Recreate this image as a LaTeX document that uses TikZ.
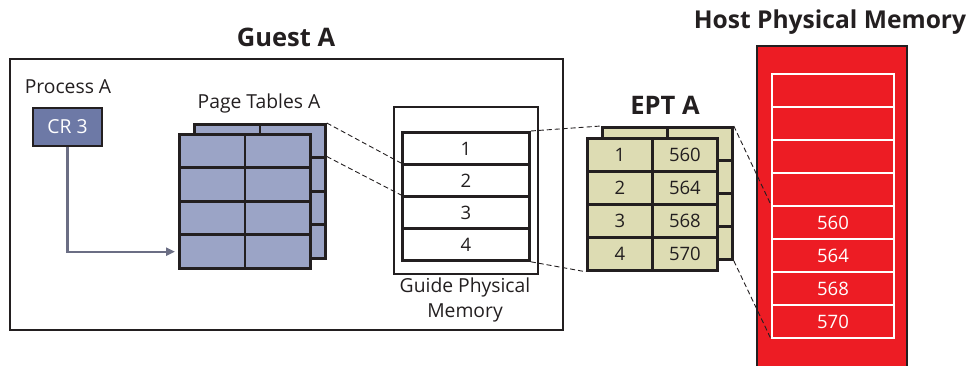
\documentclass[tikz,border=0pt]{standalone}
\usepackage{fontspec}
\setmainfont{Open Sans}
\usetikzlibrary{arrows.meta}
\definecolor{ink}{HTML}{231F20}
\definecolor{ptfill}{HTML}{9BA4C6}
\definecolor{crfill}{HTML}{6D79A6}
\definecolor{linkgray}{HTML}{6B6E84}
\definecolor{eptfill}{HTML}{DDDCB3}
\definecolor{hostred}{HTML}{ED1C24}
\tikzset{
  lbl/.style={font=\fontsize{19.3}{22}\selectfont, text=ink, inner sep=0pt},
  num/.style={font=\fontsize{18.5}{21}\selectfont},
  ttl/.style={font=\fontsize{25.5}{28}\selectfont\bfseries, text=ink, inner sep=0pt},
  frame/.style={draw=ink, line width=2.2pt},
  ptcell/.style={draw=ink, fill=ptfill, line width=2.8pt, anchor=north west,
    minimum width=65.5pt, minimum height=33.5pt, inner sep=0pt},
  eptcell/.style={draw=ink, fill=eptfill, line width=2.8pt, anchor=north west,
    minimum width=65pt, minimum height=33pt, inner sep=0pt, num, text=ink},
  gmcell/.style={draw=ink, fill=white, line width=2.8pt, anchor=north west,
    minimum width=127pt, minimum height=32pt, inner sep=0pt, num, text=ink},
  hmcell/.style={draw=white, line width=2pt, anchor=north west,
    minimum width=122pt, minimum height=33pt, inner sep=0pt},
  map/.style={draw=ink, line width=0.9pt, dash pattern=on 5pt off 3pt},
}
\begin{document}
\begin{tikzpicture}[x=1pt,y=-1pt]
\useasboundingbox (0,0) rectangle (975,366);

% Guest A frame
\node[ttl] (guestttl) at (286,37) {Guest A};
\draw[frame] (10,59) rectangle (563,330);

% Process A with its CR3 register
\node[lbl] (proc) at (68,87) {Process A};
\node[draw=ink, fill=crfill, line width=2.4pt, minimum width=69pt, minimum height=38pt,
  inner sep=0pt, lbl, text=white] (cr3) at (67.5,127) {CR 3};

% Page tables: back sheet, then front sheet
\node[lbl] (ptttl) at (259,103) {Page Tables A};
\foreach \r in {1,...,4} \foreach \c in {1,2}
  \node[ptcell] (pb-\r-\c) at ({193+65.5*(\c-1)},{123+33.5*(\r-1)}) {};
\foreach \r in {1,...,4} \foreach \c in {1,2}
  \node[ptcell] (pf-\r-\c) at ({178+65.5*(\c-1)},{133+33.5*(\r-1)}) {};

% CR3 points to the page tables
\coordinate (bend) at (cr3.south |- pf-4-1.west);
\draw[linkgray, line width=2.2pt, -{Triangle[length=9pt,width=8pt]}]
  (cr3.south) -- (bend) -- ([xshift=-3pt]pf-4-1.west);

% Guest physical memory
\node[draw=ink, line width=2.4pt, minimum width=144pt, minimum height=167pt,
  inner sep=0pt, anchor=north west] (gmbox) at (393,106) {};
\foreach \r in {1,...,4}
  \node[gmcell] (gm-\r) at (401,{131+32*(\r-1)}) {\r};
\node[lbl, align=center, font=\fontsize{19.3}{25}\selectfont] (gmttl) at (465,300)
  {Guide Physical\\Memory};

% EPT A: back sheet, then front sheet with the mappings
\node[ttl] (eptttl) at (665,105) {EPT A};
\foreach \r in {1,...,4} \foreach \c in {1,2}
  \node[eptcell] (eb-\r-\c) at ({601+65*(\c-1)},{126+33*(\r-1)}) {};
\foreach \r/\v in {1/560,2/564,3/568,4/570} {
  \node[eptcell] (ef-\r-1) at (586,{137+33*(\r-1)}) {\r};
  \node[eptcell] (ef-\r-2) at (651,{137+33*(\r-1)}) {\v};
}

% Host physical memory
\node[ttl, font=\fontsize{24.6}{28}\selectfont\bfseries] (hostttl) at (830,22)
  {Host Physical Memory};
\fill[hostred] (757,46) rectangle (907,372);
\draw[draw=ink, line width=2.4pt] (757,372) -- (757,46) -- (907,46) -- (907,372);
\foreach \r in {1,...,8}
  \node[hmcell] (hm-\r) at (771,{73+33*(\r-1)}) {};
\foreach \r/\v in {5/560,6/564,7/568,8/570}
  \node[num, text=white, inner sep=0pt] at (hm-\r) {\v};

% Dashed mapping lines
\draw[map] (pb-1-2.north east) -- (gm-2.north west);
\draw[map] (pb-2-2.north east) -- (gm-3.north west);
\draw[map] (gm-1.north east) -- (eb-1-1.north west);
\draw[map] (gm-4.south east) -- (ef-4-1.south west);
\draw[map] (eb-1-2.north east) -- (hm-5.north west);
\draw[map] (eb-4-2.south east) -- (hm-8.south west);
\end{tikzpicture}
\end{document}
